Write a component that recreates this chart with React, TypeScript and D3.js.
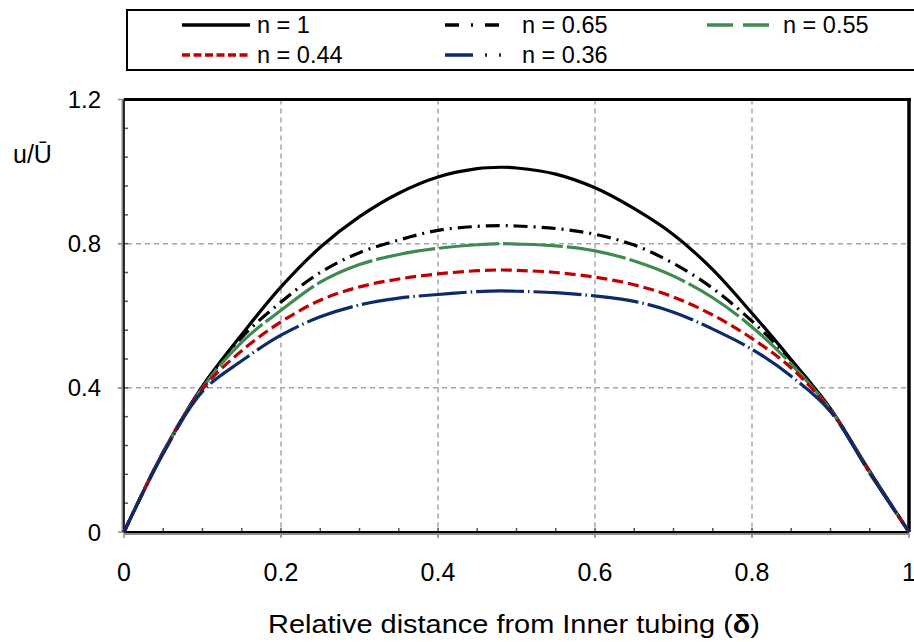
import React from "react";
import * as d3 from "d3";

const W = 914;
const H = 642;

const delta = [0, 0.05, 0.1, 0.15, 0.2, 0.25, 0.3, 0.35, 0.4, 0.45, 0.48, 0.5, 0.55, 0.6, 0.65, 0.7, 0.75, 0.8, 0.85, 0.9, 0.95, 1];
const uN100 = [0, 0.222, 0.405, 0.548, 0.68, 0.79, 0.875, 0.94, 0.985, 1.008, 1.012, 1.01, 0.993, 0.955, 0.897, 0.825, 0.728, 0.607, 0.478, 0.342, 0.168, 0];
const uN065 = [0, 0.222, 0.403, 0.54, 0.638, 0.72, 0.775, 0.81, 0.837, 0.848, 0.85, 0.849, 0.842, 0.826, 0.796, 0.745, 0.676, 0.585, 0.476, 0.34, 0.166, 0];
const uN055 = [0, 0.221, 0.4, 0.527, 0.615, 0.693, 0.742, 0.77, 0.787, 0.797, 0.8, 0.799, 0.794, 0.78, 0.752, 0.71, 0.65, 0.569, 0.466, 0.339, 0.165, 0];
const uN044 = [0, 0.22, 0.397, 0.503, 0.583, 0.643, 0.68, 0.702, 0.716, 0.725, 0.727, 0.726, 0.72, 0.707, 0.686, 0.652, 0.602, 0.537, 0.455, 0.337, 0.165, 0];
const uN036 = [0, 0.218, 0.39, 0.475, 0.546, 0.597, 0.63, 0.649, 0.659, 0.667, 0.669, 0.668, 0.664, 0.655, 0.64, 0.61, 0.563, 0.507, 0.432, 0.334, 0.163, 0];

const seriesLabels = ["n = 1", "n = 0.65", "n = 0.55", "n = 0.44", "n = 0.36"];
const seriesValues = [uN100, uN065, uN055, uN044, uN036];
const seriesColors = ["#000000", "#000000", "#3d8b52", "#c00000", "#0d2a6b"];
const plotDash = ["none", "14,6,2,6", "60,4", "11,5", "48,4,1.5,4"];
const legendDash = ["none", "14,12,2,12", "26,10", "8,3.5", "28,12,2,12,2,12"];

const xTicks = [0, 0.2, 0.4, 0.6, 0.8, 1];
const xTickLabels = ["0", "0.2", "0.4", "0.6", "0.8", "1"];
const yTicks = [0, 0.4, 0.8, 1.2];
const yTickLabels = ["0", "0.4", "0.8", "1.2"];

const FONT = "'Liberation Sans', Arial, sans-serif";

export default function App() {
  const x = d3.scaleLinear().domain([0, 1]).range([124, 909]);
  const y = d3.scaleLinear().domain([0, 1.2]).range([532, 99.5]);

  const line = d3
    .line<[number, number]>()
    .x((d) => x(d[0]))
    .y((d) => y(d[1]))
    .curve(d3.curveCatmullRom.alpha(0.5));

  const xMinor = d3.range(0, 1.0001, 0.05);
  const yMinor = d3.range(0, 1.2001, 0.08);

  const legendItems = [
    { lx: 182, ly: 25, tx: 257 },
    { lx: 445, ly: 25, tx: 522 },
    { lx: 707, ly: 25, tx: 783 },
    { lx: 182, ly: 55, tx: 257 },
    { lx: 445, ly: 55, tx: 522 },
  ];
  const legendLen = [68, 57, 70, 68, 57];

  return (
    <svg
      width={W}
      height={H}
      style={{ position: "fixed", left: 0, top: 0, background: "#fff" }}
      fontFamily={FONT}
    >
      <rect x={0} y={0} width={W} height={H} fill="#fff" />
      {/* legend */}
      <rect x={127} y={10} width={800} height={60} fill="#fff" stroke="#000" strokeWidth={2} />
      {seriesLabels.map((lab, i) => {
        const it = legendItems[i];
        return (
          <g key={lab}>
            <line
              x1={it.lx}
              x2={it.lx + legendLen[i]}
              y1={it.ly}
              y2={it.ly}
              stroke={seriesColors[i]}
              strokeWidth={3.5}
              strokeDasharray={legendDash[i]}
            />
            <text x={it.tx} y={it.ly} dy="0.35em" fontSize={23.5} fill="#000">
              {lab}
            </text>
          </g>
        );
      })}

      {/* gridlines */}
      {xTicks.slice(1, -1).map((t) => (
        <line key={"gx" + t} x1={x(t)} x2={x(t)} y1={y(1.2)} y2={y(0) + 6} stroke="#a6a6a6" strokeWidth={1.5} strokeDasharray="5,4" />
      ))}
      {yTicks.slice(1, -1).map((t) => (
        <line key={"gy" + t} x1={x(0) - 6} x2={x(1)} y1={y(t)} y2={y(t)} stroke="#a6a6a6" strokeWidth={1.5} strokeDasharray="5,4" />
      ))}

      {/* minor ticks */}
      {xMinor.map((t, i) => (
        <line key={"xm" + i} x1={x(t)} x2={x(t)} y1={y(0)} y2={y(0) - 4} stroke="#555" strokeWidth={1.5} />
      ))}
      {yMinor.map((t, i) => (
        <line key={"ym" + i} x1={x(0)} x2={x(0) + 4} y1={y(t)} y2={y(t)} stroke="#555" strokeWidth={1.5} />
      ))}
      {xTicks.map((t) => (
        <line key={"xM" + t} x1={x(t)} x2={x(t)} y1={y(0)} y2={y(0) + 6} stroke="#8c8c8c" strokeWidth={1.5} />
      ))}
      {yTicks.map((t) => (
        <line key={"yM" + t} x1={x(0) - 6} x2={x(0)} y1={y(t)} y2={y(t)} stroke="#8c8c8c" strokeWidth={1.5} />
      ))}

      {/* frame */}
      <line x1={x(0)} x2={x(1) + 2} y1={y(1.2)} y2={y(1.2)} stroke="#000" strokeWidth={3} />
      <line x1={x(1)} x2={x(1)} y1={y(1.2) - 1.5} y2={y(0)} stroke="#000" strokeWidth={3.5} />
      <line x1={x(0) - 1} x2={x(0) - 1} y1={y(1.2)} y2={y(0) + 1} stroke="#8c8c8c" strokeWidth={3} />
      <line x1={x(0)} x2={x(0)} y1={y(1.2)} y2={y(0)} stroke="#000" strokeWidth={1.5} />
      <line x1={x(0)} x2={x(1)} y1={y(0) + 2} y2={y(0) + 2} stroke="#8c8c8c" strokeWidth={2} />
      <line x1={x(0)} x2={x(1)} y1={y(0)} y2={y(0)} stroke="#000" strokeWidth={2} />

      {/* series */}
      {seriesValues.map((vals, i) => (
        <path
          key={"s" + i}
          d={line(delta.map((d, j) => [d, vals[j]] as [number, number])) || ""}
          fill="none"
          stroke={seriesColors[i]}
          strokeWidth={3.2}
          strokeDasharray={plotDash[i]}
          strokeLinecap="butt"
        />
      ))}

      {/* tick labels */}
      {xTicks.map((t, i) => (
        <text key={"xl" + t} x={x(t)} y={581} textAnchor="middle" fontSize={25} fill="#000">
          {xTickLabels[i]}
        </text>
      ))}
      {yTicks.map((t, i) => (
        <text key={"yl" + t} x={101} y={y(t)} dy="0.36em" textAnchor="end" fontSize={24} fill="#000">
          {yTickLabels[i]}
        </text>
      ))}

      {/* axis titles */}
      <text x={13} y={163} fontSize={25} fill="#000">u/Ū</text>
      <text x={268} y={633} fontSize={26} fill="#000" textLength={492} lengthAdjust="spacingAndGlyphs">
        Relative distance from Inner tubing (<tspan fontWeight="bold">δ</tspan>)
      </text>
    </svg>
  );
}
